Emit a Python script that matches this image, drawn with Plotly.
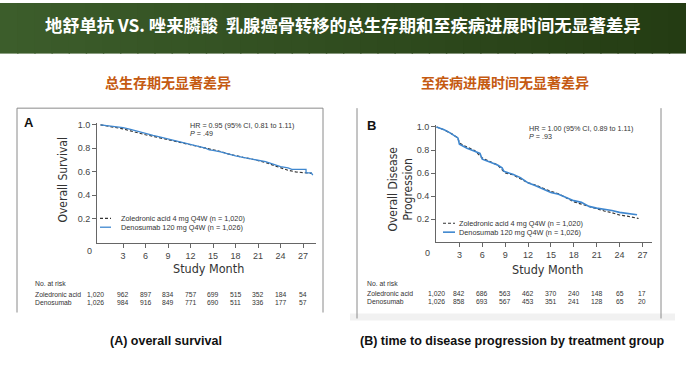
import plotly.graph_objects as go

W, H = 686, 378

# ---------------- data ----------------
tick_months = [3, 6, 9, 12, 15, 18, 21, 24, 27]
risk_months = [0, 3, 6, 9, 12, 15, 18, 21, 24, 27]

# (A) overall survival
os_den_m = [0, 1, 2, 3, 4, 5, 6, 7, 8, 9, 10, 11, 12, 13, 14, 14.5, 15, 16, 17, 18, 19, 20, 21, 22, 23, 24, 25, 25.5, 27.4, 27.4, 28.1, 28.3]
os_den_v = [1.0, 0.992, 0.985, 0.975, 0.96, 0.942, 0.924, 0.91, 0.895, 0.88, 0.865, 0.848, 0.83, 0.815, 0.80, 0.785, 0.782, 0.768, 0.75, 0.735, 0.722, 0.71, 0.70, 0.685, 0.665, 0.642, 0.632, 0.62, 0.62, 0.59, 0.59, 0.57]
os_zol_m = [0, 1, 2, 3, 4, 5, 6, 7, 8, 9, 10, 11, 12, 13, 14, 15, 16, 17, 18, 19, 20, 21, 22, 23, 24, 25, 26, 27, 28.2]
os_zol_v = [1.0, 0.99, 0.978, 0.965, 0.948, 0.93, 0.915, 0.902, 0.888, 0.875, 0.86, 0.845, 0.83, 0.815, 0.80, 0.79, 0.772, 0.752, 0.735, 0.722, 0.71, 0.695, 0.678, 0.655, 0.632, 0.612, 0.598, 0.59, 0.585]
os_risk_zol = ["1,020", "962", "897", "834", "757", "699", "515", "352", "184", "54"]
os_risk_den = ["1,026", "984", "916", "849", "771", "690", "511", "336", "177", "57"]

# (B) time to disease progression
pd_den_m = [0, 0.5, 1, 1.5, 2, 2.5, 2.8, 3.0, 3.5, 4, 5, 5.7, 6, 7, 8, 8.6, 8.8, 9, 10, 11, 12, 13, 14, 15, 16, 17, 18, 19, 19.6, 20, 21, 22, 23, 24, 25, 25.5, 26.3]
pd_den_v = [1.0, 0.99, 0.975, 0.96, 0.94, 0.92, 0.905, 0.85, 0.83, 0.815, 0.79, 0.77, 0.72, 0.695, 0.67, 0.645, 0.618, 0.61, 0.59, 0.56, 0.515, 0.49, 0.46, 0.43, 0.415, 0.39, 0.36, 0.345, 0.32, 0.31, 0.295, 0.285, 0.275, 0.258, 0.25, 0.24, 0.237]
pd_zol_m = [0, 1, 2, 2.8, 3.0, 3.5, 4, 5, 6, 7, 8, 9, 10, 11, 12, 13, 14, 15, 16, 17, 18, 19, 20, 21, 22, 23, 24, 25, 26, 26.5]
pd_zol_v = [1.0, 0.975, 0.94, 0.905, 0.86, 0.84, 0.825, 0.795, 0.73, 0.70, 0.67, 0.60, 0.585, 0.55, 0.515, 0.495, 0.465, 0.44, 0.42, 0.385, 0.35, 0.33, 0.31, 0.285, 0.27, 0.255, 0.235, 0.225, 0.215, 0.205]
pd_risk_zol = ["1,020", "842", "686", "563", "462", "370", "240", "148", "65", "17"]
pd_risk_den = ["1,026", "858", "693", "567", "453", "351", "241", "128", "65", "20"]

title_text = "地舒单抗 VS. 唑来膦酸  乳腺癌骨转移的总生存期和至疾病进展时间无显著差异"
sub_a = "总生存期无显著差异"
sub_b = "至疾病进展时间无显著差异"
cap_a = "(A) overall survival"
cap_b = "(B) time to disease progression by treatment group"
leg_zol = "Zoledronic acid 4 mg Q4W (n = 1,020)"
leg_den = "Denosumab 120 mg Q4W (n = 1,026)"
hr_a = "HR = 0.95 (95% CI, 0.81 to 1.11)"
p_a = "<i>P</i> = .49"
hr_b = "HR = 1.00 (95% CI, 0.89 to 1.11)"
p_b = "<i>P</i> = .93"

# ---------------- style ----------------
BLUE = "#3f87cf"
DARK = "#333333"
AX = "#666666"
TXT = "#333333"
CJK = "Noto Sans CJK SC, Noto Sans, sans-serif"
NARROW = "DejaVu Sans Condensed, Liberation Sans Narrow, Arial Narrow, sans-serif"
ARIAL = "Liberation Sans, Arial, sans-serif"


def px(x):
    return x / W


def py(y):
    return 1 - y / H


fig = go.Figure()

# curves
fig.add_trace(go.Scatter(x=os_zol_m, y=os_zol_v, mode="lines", xaxis="x", yaxis="y",
                         line=dict(color=DARK, width=1.2, dash="3px,2px"), showlegend=False))
fig.add_trace(go.Scatter(x=os_den_m, y=os_den_v, mode="lines", xaxis="x", yaxis="y",
                         line=dict(color=BLUE, width=1.3), showlegend=False))
fig.add_trace(go.Scatter(x=pd_zol_m, y=pd_zol_v, mode="lines", xaxis="x2", yaxis="y2",
                         line=dict(color=DARK, width=1.2, dash="3px,2px"), showlegend=False))
fig.add_trace(go.Scatter(x=pd_den_m, y=pd_den_v, mode="lines", xaxis="x2", yaxis="y2",
                         line=dict(color=BLUE, width=1.6), showlegend=False))

axis_common = dict(showgrid=False, zeroline=False, showline=True, linecolor=AX, linewidth=1,
                   ticks="outside", ticklen=4, tickcolor=AX, tickwidth=1,
                   tickfont=dict(family=ARIAL, size=9, color="#444444"), fixedrange=True)

fig.update_layout(
    width=W, height=H, margin=dict(l=0, r=0, t=0, b=0),
    paper_bgcolor="white", plot_bgcolor="rgba(0,0,0,0)",
    xaxis=dict(domain=[px(97), px(316)], range=[-0.47, 28.73], tickvals=tick_months,
               anchor="y", **axis_common),
    yaxis=dict(domain=[py(242), py(121)], range=[-0.01, 1.015], tickvals=[0.2, 0.4, 0.6, 0.8, 1.0],
               ticktext=["0.2", "0.4", "0.6", "0.8", "1.0"], anchor="x", **axis_common),
    xaxis2=dict(domain=[px(436), px(652)], range=[-0.07, 28.26], tickvals=tick_months,
                anchor="y2", **axis_common),
    yaxis2=dict(domain=[py(241), py(123)], range=[0.0, 1.017], tickvals=[0.2, 0.4, 0.6, 0.8, 1.0],
                ticktext=["0.2", "0.4", "0.6", "0.8", "1.0"], anchor="x2", **axis_common),
)

shapes = []
# header gradient band
n = 40
c0 = (60, 93, 43)
c1 = (36, 60, 19)
for i in range(n):
    t = i / (n - 1)
    col = "rgb(%d,%d,%d)" % tuple(round(a + (b - a) * t) for a, b in zip(c0, c1))
    shapes.append(dict(type="rect", xref="paper", yref="paper",
                       x0=i / n, x1=(i + 1) / n + 0.002, y0=py(51), y1=1,
                       fillcolor=col, line=dict(width=0), layer="below"))

# panel frames
frame = dict(color="#8a8a8a", width=1)
for (x0, y0, x1, y1) in [(17, 106, 17, 312), (17, 106, 323, 106), (323, 106, 323, 312),
                          (357, 106, 357, 318), (661, 106, 661, 318)]:
    shapes.append(dict(type="line", xref="paper", yref="paper", x0=px(x0), y0=py(y0),
                       x1=px(x1), y1=py(y1), line=frame))
shapes.append(dict(type="rect", xref="paper", yref="paper", x0=px(350), x1=px(675),
                   y0=py(320), y1=py(313), fillcolor="#f1f1f1", line=dict(width=0), layer="below"))

# legend samples
for (x0, x1, y, col, dash, w) in [(100, 111, 217, DARK, "3px,2px", 1.2), (100, 111, 226, BLUE, "solid", 1.3),
                                   (443, 455, 222, DARK, "3px,2px", 1.2), (443, 455, 231, BLUE, "solid", 1.6)]:
    shapes.append(dict(type="line", xref="paper", yref="paper", x0=px(x0), x1=px(x1),
                       y0=py(y), y1=py(y), line=dict(color=col, width=w, dash=dash)))

ann = []


def text(x, y, s, size, color=TXT, family=ARIAL, xanchor="center", bold=False, xref="paper",
         angle=0):
    if bold:
        s = "<b>%s</b>" % s
    ann.append(dict(x=px(x) if xref == "paper" else x, y=py(y), xref=xref, yref="paper", text=s,
                    showarrow=False, xanchor=xanchor, yanchor="middle",
                    font=dict(size=size, color=color, family=family), textangle=angle))


# titles
text(343, 22, title_text, 17.3, color="white", family=CJK, bold=True)
text(168, 80, sub_a, 14, color="#c55a11", family=CJK, bold=True)
text(505, 80, sub_b, 14, color="#c55a11", family=CJK, bold=True)

# panel letters
text(29, 120, "A", 13, color="#111111", family=ARIAL, bold=True)
text(371, 123, "B", 13, color="#111111", family=ARIAL, bold=True)

# axis titles
text(63, 178, "Overall Survival", 12, color="#333333", family=NARROW, angle=-90)
text(393, 188, "Overall Disease", 12, color="#333333", family=NARROW, angle=-90)
text(408, 188, "Progression", 12, color="#333333", family=NARROW, angle=-90)
text(208, 268, "Study Month", 12.5, color="#333333", family=NARROW)
text(547, 269, "Study Month", 12.5, color="#333333", family=NARROW)
text(89, 250, "0", 9, color="#444444")
text(427, 252, "0", 9, color="#444444")

# HR / legend text
text(188, 123, hr_a, 7.2, xanchor="left")
text(188, 132, p_a, 7.2, xanchor="left")
text(527, 127, hr_b, 7.2, xanchor="left")
text(527, 135, p_b, 7.2, xanchor="left")
text(119, 217, leg_zol, 7.3, xanchor="left")
text(119, 226, leg_den, 7.3, xanchor="left")
text(457, 222, leg_zol, 7.3, xanchor="left")
text(457, 231, leg_den, 7.3, xanchor="left")

# number at risk tables
RS = 6.8
text(33, 283, "No. at risk", RS, xanchor="left")
text(33, 294, "Zoledronic acid", RS, xanchor="left")
text(33, 301.5, "Denosumab", RS, xanchor="left")
text(365, 283, "No. at risk", RS, xanchor="left")
text(365, 293, "Zoledronic acid", RS, xanchor="left")
text(365, 300.5, "Denosumab", RS, xanchor="left")
for i, m in enumerate(risk_months):
    if m == 0:
        text(95, 294, os_risk_zol[i], RS)
        text(95, 301.5, os_risk_den[i], RS)
        text(436, 293, pd_risk_zol[i], RS)
        text(436, 300.5, pd_risk_den[i], RS)
    else:
        text(m, 294, os_risk_zol[i], RS, xref="x")
        text(m, 301.5, os_risk_den[i], RS, xref="x")
        text(m, 293, pd_risk_zol[i], RS, xref="x2")
        text(m, 300.5, pd_risk_den[i], RS, xref="x2")

# captions
text(166, 341, cap_a, 12.5, color="#111111", family=ARIAL, bold=True)
text(512, 341, cap_b, 12.5, color="#111111", family=ARIAL, bold=True)

fig.update_layout(shapes=shapes, annotations=ann)
fig.write_html("out.html", config={"displayModeBar": False},
               post_script="document.body.style.margin='0';document.body.style.overflow='hidden';")
